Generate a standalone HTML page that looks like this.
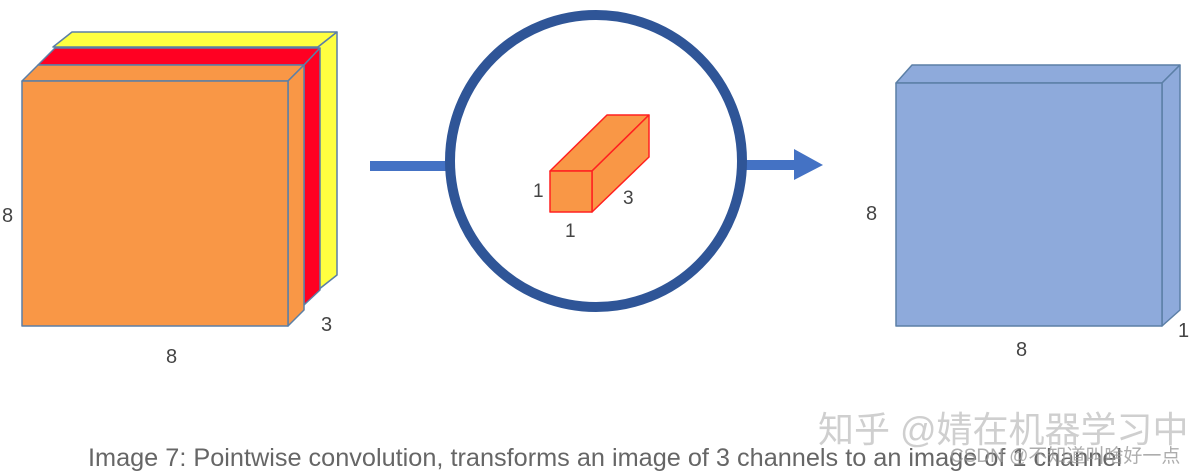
<!DOCTYPE html>
<html><head><meta charset="utf-8"><style>
html,body{margin:0;padding:0;background:#fff;width:1196px;height:472px;overflow:hidden}
svg{display:block}
</style></head><body>
<svg width="1196" height="472" viewBox="0 0 1196 472" xmlns="http://www.w3.org/2000/svg" font-family="Liberation Sans, sans-serif">
<g stroke="#5b7fa6" stroke-width="1.5" stroke-linejoin="round">
<polygon points="53,47 72,32 337,32 318,47" fill="#ffff40"/>
<polygon points="318,47 337,32 337,275 318,290" fill="#ffff40"/>
<polygon points="38,65 55,48 320,48 304,65" fill="#ff0022"/>
<polygon points="304,65 320,48 320,290 304,305" fill="#ff0022"/>
<polygon points="22,81 38,65 304,65 288,81" fill="#f99746"/>
<polygon points="288,81 304,65 304,310 288,326" fill="#f99746"/>
<rect x="22" y="81" width="266" height="245" fill="#f99746"/>
</g>
<text x="2" y="222" font-size="20" fill="#444">8</text>
<text x="166" y="363" font-size="20" fill="#444">8</text>
<text x="321" y="331" font-size="20" fill="#444">3</text>
<rect x="370" y="161" width="78" height="10" fill="#4472c4"/>
<rect x="746" y="160" width="50" height="10" fill="#4472c4"/>
<polygon points="794,149 823,165 794,180" fill="#4472c4"/>
<circle cx="596" cy="161" r="146" fill="none" stroke="#2f5597" stroke-width="10"/>
<g stroke="#ff2020" stroke-width="1.5" stroke-linejoin="round" fill="#f99746">
<polygon points="550,171 607,115 649,115 592,171"/>
<polygon points="592,171 649,115 649,157 592,212"/>
<rect x="550" y="171" width="42" height="41"/>
</g>
<text x="533" y="197" font-size="19" fill="#444">1</text>
<text x="565" y="237" font-size="19" fill="#444">1</text>
<text x="623" y="204" font-size="19" fill="#444">3</text>
<g stroke="#5b7fa6" stroke-width="1.5" stroke-linejoin="round" fill="#8eaadb">
<polygon points="896,83 912,65 1180,65 1162,83"/>
<polygon points="1162,83 1180,65 1180,310 1162,326"/>
<rect x="896" y="83" width="266" height="243"/>
</g>
<text x="866" y="220" font-size="20" fill="#444">8</text>
<text x="1016" y="356" font-size="20" fill="#444">8</text>
<text x="1178" y="337" font-size="20" fill="#444">1</text>
<text x="88" y="466" font-size="25" fill="#666" textLength="1034" lengthAdjust="spacingAndGlyphs">Image 7: Pointwise convolution, transforms an image of 3 channels to an image of 1 channel</text>
<text x="818" y="442" font-size="36" fill="#bbb" fill-opacity="0.7" font-family="Liberation Sans, Noto Sans CJK SC, sans-serif">知乎 @婧在机器学习中</text>
<text x="950" y="462" font-size="19" fill="#999" fill-opacity="0.8" font-family="Liberation Sans, Noto Sans CJK SC, sans-serif">CSDN @不知道叫啥好一点</text>
</svg>
</body></html>
